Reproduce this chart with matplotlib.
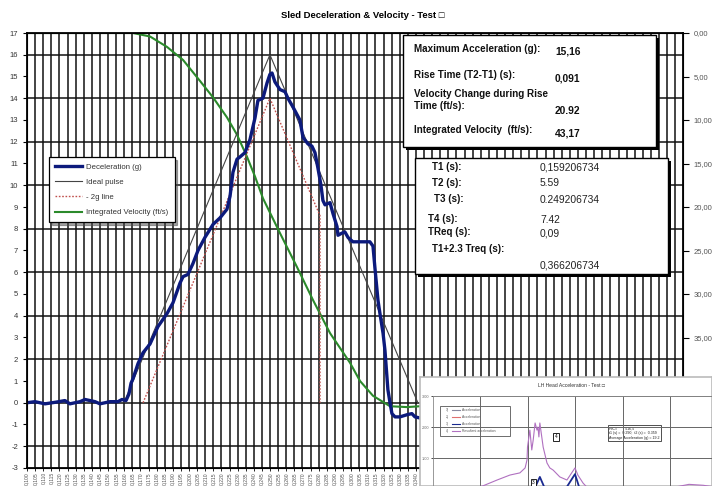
import matplotlib
matplotlib.use('Agg')
import matplotlib.pyplot as plt
from matplotlib.patches import Rectangle
from matplotlib.lines import Line2D

plt.rcParams['font.family'] = ['Liberation Sans', 'DejaVu Sans']
plt.rcParams['axes.unicode_minus'] = False

# Curva de desaceleracion del trineo (tiempo s, g)
t_dec = [0.1000, 0.1049, 0.1111, 0.1173, 0.1234, 0.1265, 0.1327, 0.1358, 0.1420, 0.1450,
         0.1512, 0.1561, 0.1586, 0.1611, 0.1629, 0.1642, 0.1654, 0.1685, 0.1716, 0.1759,
         0.1808, 0.1864, 0.1901, 0.1944, 0.1963, 0.1993, 0.2024, 0.2055, 0.2098, 0.2148,
         0.2191, 0.2234, 0.2253, 0.2271, 0.2296, 0.2314, 0.2345, 0.2376, 0.2407, 0.2425,
         0.2456, 0.2481, 0.2499, 0.2512, 0.2530, 0.2561, 0.2592, 0.2610, 0.2641, 0.2684,
         0.2703, 0.2734, 0.2758, 0.2777, 0.2795, 0.2814, 0.2826, 0.2839, 0.2870, 0.2888,
         0.2913, 0.2919, 0.2944, 0.2962, 0.2981, 0.3011, 0.3073, 0.3116, 0.3135, 0.3147,
         0.3166, 0.3178, 0.3197, 0.3209, 0.3227, 0.3240, 0.3252, 0.3271, 0.3301, 0.3345,
         0.3375, 0.3394, 0.3425]
g_dec = [0.0, 0.05, -0.05, 0.02, 0.1, -0.05, 0.05, 0.15, 0.05, -0.05,
         0.05, 0.05, 0.15, 0.1, 0.4, 0.9, 1.1, 1.8, 2.3, 2.7,
         3.5, 4.1, 4.6, 5.5, 5.8, 5.9, 6.4, 7.0, 7.6, 8.2,
         8.5, 8.9, 9.5, 10.6, 11.2, 11.3, 11.5, 12.1, 13.1, 13.9,
         14.0, 14.7, 15.1, 15.16, 14.75, 14.4, 14.3, 14.0, 13.6, 13.0,
         12.2, 11.9, 11.8, 11.5, 10.8, 10.0, 9.3, 9.1, 9.2, 8.7,
         8.1, 7.7, 7.8, 7.85, 7.6, 7.4, 7.4, 7.4, 7.2, 6.2,
         4.7, 4.1, 3.2, 2.4, 0.6, 0.0, -0.5, -0.65, -0.65, -0.55,
         -0.5, -0.65, -0.7]

# Pulso ideal y linea -2g
t_ideal = [0.1598, 0.2499, 0.3412]
g_ideal = [0, 16, 0]
t_2g = [0.1716, 0.2499, 0.2808, 0.2808]
g_2g = [0, 14, 8.6, 0]

# Velocidad integrada (ft/s, eje derecho)
t_vel = [0.1000, 0.1654, 0.1759, 0.1864, 0.1963, 0.2067, 0.2148, 0.2234, 0.2296, 0.2357,
         0.2407, 0.2456, 0.2561, 0.2666, 0.2765, 0.2870, 0.2993, 0.3055, 0.3135, 0.3240,
         0.3345, 0.3425]
v_vel = [0, 0, 0.4, 1.6, 3.1, 5.5, 7.4, 9.7, 11.7, 14.2,
         16.5, 19.0, 23.0, 26.9, 30.7, 34.5, 37.9, 40.0, 41.7, 42.9,
         43.0, 42.9]

# Etiquetas del eje de categorias
t_cat = [round(0.100 + 0.005 * i, 3) for i in range(81)]
etiquetas_t = [('%.3f' % t).replace('.', ',') for t in t_cat]

# Cuadros de resultados
res_1 = [('Maximum Acceleration (g):', '15,16'),
         ('Rise Time (T2-T1) (s):', '0,091'),
         ('Velocity Change during Rise\nTime (ft/s):', '20.92'),
         ('Integrated Velocity  (ft/s):', '43,17')]
res_2 = [('T1 (s):', '0,159206734'), ('T2 (s):', '5.59'), ('T3 (s):', '0.249206734'),
         ('T4 (s):', '7.42'), ('TReq (s):', '0,09'), ('T1+2.3 Treq (s):', '0,366206734')]

# Datos del grafico insertado (aceleracion de cabeza)
t_head = [0.0, 0.08, 0.106, 0.136, 0.163, 0.184, 0.195, 0.199, 0.200, 0.205, 0.209, 0.212,
          0.216, 0.220, 0.222, 0.224, 0.226, 0.233, 0.241, 0.247, 0.254, 0.268, 0.283,
          0.300, 0.306, 0.317, 0.325, 0.40, 0.50, 0.54, 0.57, 0.60]
a_res = [0, 0, 0.1, 0.29, 0.45, 0.52, 0.68, 0.94, 1.35, 1.9, 1.26, 1.58,
         2.13, 1.9, 2.0, 1.68, 2.13, 1.35, 0.84, 0.68, 0.61, 0.39, 0.29,
         0.68, 0.45, 0.19, 0.06, 0.03, 0.03, 0.15, 0.12, 0.05]
t_a3 = [0.19, 0.215, 0.226, 0.237, 0.28, 0.30, 0.31, 0.34]
a_3 = [0, 0.02, 0.39, 0.0, 0.0, 0.48, 0.0, 0.0]
t_a2 = [0.25, 0.28, 0.30, 0.33]
a_2 = [0.03, 0.08, 0.05, 0.02]

W, H = 712, 486
fx = lambda x: x / W
fy = lambda y: 1 - y / H

fig = plt.figure(figsize=(W / 100, H / 100), dpi=100)
fig.patch.set_facecolor('white')

# Eje derecho (velocidad) abajo, con la grilla
ax = fig.add_axes([fx(27), fy(468), 656 / W, 435 / H])
ax2 = ax.twinx()
ax.set_zorder(2)
ax.patch.set_visible(False)
ax2.set_zorder(1)

ax.set_xlim(0.100, 0.5048)
ax.set_ylim(-3, 17)
ax2.set_ylim(50, 0)

ax.set_xticks(t_cat)
ax.set_xticklabels(etiquetas_t, rotation=90, fontsize=3.6, color='#555')
ax.set_yticks(range(-3, 18))
ax.tick_params(axis='y', labelsize=5.5, labelcolor='#333', length=3, width=0.8)
ax.tick_params(axis='x', length=2, width=0.6, pad=1)

ax2.set_yticks(range(0, 51, 5))
ax2.set_yticklabels([('%.2f' % v).replace('.', ',') for v in range(0, 51, 5)])
ax2.set_yticks([k * 2.5 for k in range(21)], minor=True)
ax2.tick_params(axis='y', which='major', labelsize=5.5, labelcolor='#555', length=4, width=0.8)
ax2.tick_params(axis='y', which='minor', length=0)
ax2.xaxis.set_visible(True)
ax2.tick_params(axis='x', length=0, labelbottom=False, labeltop=False)
ax2.grid(True, which='minor', axis='y', color='#111', lw=1.1)
ax2.grid(True, which='major', axis='x', color='#111', lw=1.1)
for s in ax.spines.values():
    s.set_linewidth(1.3)

ax2.plot(t_vel, v_vel, color='#2b8a2b', lw=1.5)
ax.plot(t_ideal, g_ideal, color='#444', lw=0.8)
ax.plot(t_2g, g_2g, color='#c0504d', lw=1.0, ls=(0, (1.2, 1.2)))
ax.plot(t_dec, g_dec, color='#0c1a7c', lw=2.4)

fig.text(fx(363), fy(16), 'Sled Deceleration & Velocity - Test \u25a1', ha='center', va='center',
         fontsize=6.8, fontweight='bold')

# Leyenda
handles = [Line2D([], [], color='#0c1a7c', lw=2.4),
           Line2D([], [], color='#444', lw=0.8),
           Line2D([], [], color='#c0504d', lw=1.0, ls=(0, (1.2, 1.2))),
           Line2D([], [], color='#2b8a2b', lw=1.5)]
labels = ['Deceleration (g)', 'Ideal pulse', '- 2g line', 'Integrated Velocity (ft/s)']
leg = ax.legend(handles, labels, loc='upper left', bbox_to_anchor=(fx(45), fy(153)),
                bbox_transform=fig.transFigure, fontsize=5.6, frameon=True, fancybox=False,
                shadow=True, edgecolor='black', handlelength=3.4, labelspacing=1.0,
                borderpad=0.8, handletextpad=0.6)
leg.get_frame().set_linewidth(0.9)
for txt in leg.get_texts():
    txt.set_color('#333')


def caja(x0, y0, x1, y1):
    # caja blanca con sombra negra
    fig.add_artist(Rectangle((fx(x0 + 3), fy(y1 + 3)), (x1 - x0) / W, (y1 - y0) / H,
                             transform=fig.transFigure, facecolor='black', edgecolor='none', zorder=4))
    fig.add_artist(Rectangle((fx(x0), fy(y1)), (x1 - x0) / W, (y1 - y0) / H,
                             transform=fig.transFigure, facecolor='white', edgecolor='black',
                             lw=1.0, zorder=5))


caja(403, 35, 656, 147)
y_1 = [49, 75, 100, 130]
yv_1 = [52, 78, 111, 133]
for (lab, val), yl, yv in zip(res_1, y_1, yv_1):
    fig.text(fx(414), fy(yl), lab, fontsize=7.1, fontweight='bold', va='center', ha='left',
             zorder=6, linespacing=1.2, color='#111')
    fig.text(fx(555), fy(yv), val, fontsize=7.4, fontweight='bold', va='center', ha='left',
             zorder=6, color='#111')

caja(415, 158, 668, 274)
y_2 = [167, 183, 199, 219, 232, 249]
yv_2 = [167, 183, 200, 220, 233, 265]
x_2 = [432, 432, 434, 428, 428, 432]
for (lab, val), yl, yv, xl in zip(res_2, y_2, yv_2, x_2):
    fig.text(fx(xl), fy(yl), lab, fontsize=7.0, fontweight='bold', va='center', ha='left',
             zorder=6, color='#111')
    fig.text(fx(540), fy(yv), val, fontsize=7.4, va='center', ha='left', zorder=6, color='#222')

# Grafico insertado (captura de otro reporte)
marco = fig.add_axes([fx(420), 0, 292 / W, 109 / H])
marco.set_zorder(5)
marco.set_xlim(0, 1)
marco.set_ylim(0, 1)
marco.set_xticks([])
marco.set_yticks([])
for s in marco.spines.values():
    s.set_color('#bbb')
    s.set_linewidth(1.2)
marco.text(0.52, 0.92, 'LH Head Acceleration - Test \u25a1', ha='center', va='center',
           fontsize=3.6, color='#333')

ax_in = fig.add_axes([fx(432.5), fy(489), 285 / W, 93 / H])
ax_in.set_zorder(6)
ax_in.patch.set_alpha(0)
ax_in.set_xlim(0, 0.6)
ax_in.set_ylim(0, 3)
ax_in.set_xticks([0.1, 0.2, 0.3, 0.4, 0.5])
ax_in.set_xticklabels([])
ax_in.set_yticks([1, 2, 3])
ax_in.set_yticklabels(['1.00', '2.00', '3.00'], fontsize=2.8, color='#666')
ax_in.tick_params(length=1.5, width=0.5, pad=1)
ax_in.grid(True, color='#666', lw=0.7)
for k, s in ax_in.spines.items():
    s.set_color('#888')
    s.set_linewidth(0.6)
ax_in.spines['right'].set_visible(False)
ax_in.plot(t_head, a_res, color='#b070c0', lw=0.8)
ax_in.plot(t_a2, a_2, color='#e07070', lw=0.8)
ax_in.plot(t_a3, a_3, color='#1a2a90', lw=1.3)
ax_in.text(0.26, 1.68, '4', fontsize=3.5, ha='center', va='center',
           bbox=dict(boxstyle='square,pad=0.25', fc='white', ec='black', lw=0.6))
ax_in.text(0.212, 0.2, '3', fontsize=3.5, ha='center', va='center',
           bbox=dict(boxstyle='square,pad=0.25', fc='white', ec='black', lw=0.6))

# Leyenda del insertado
mx = lambda x: (x - 420) / 292
my = lambda y: 1 - (y - 377) / 109
marco.add_patch(Rectangle((mx(440), my(436)), 70 / 292, 30 / 109, facecolor='white',
                          edgecolor='#555', lw=0.6))
ley_in = [('1)', 'Acceleration', '#8a8aa0'), ('2)', 'Acceleration', '#e07070'),
          ('3)', 'Acceleration', '#1a2a90'), ('4)', 'Resultant acceleration', '#b070c0')]
for i, (n, lab, c) in enumerate(ley_in):
    yy = my(410 + 7 * i)
    marco.text(mx(446), yy, n, fontsize=2.4, va='center', color='#555')
    marco.plot([mx(452), mx(460)], [yy, yy], color=c, lw=0.8)
    marco.text(mx(462), yy, lab, fontsize=2.4, va='center', color='#555')

# Cuadro HIC
marco.text(mx(609), my(433), 'HIC=        516,5\nt1 (s) =  0.290;  t2 (s) =  0.359\nAverage Acceleration (g) = 19.2',
           fontsize=2.6, va='center', ha='left', color='#222', linespacing=1.2, zorder=8,
           bbox=dict(boxstyle='square,pad=0.4', fc='white', ec='#333', lw=0.6))

fig.savefig('out.png', dpi=100)
